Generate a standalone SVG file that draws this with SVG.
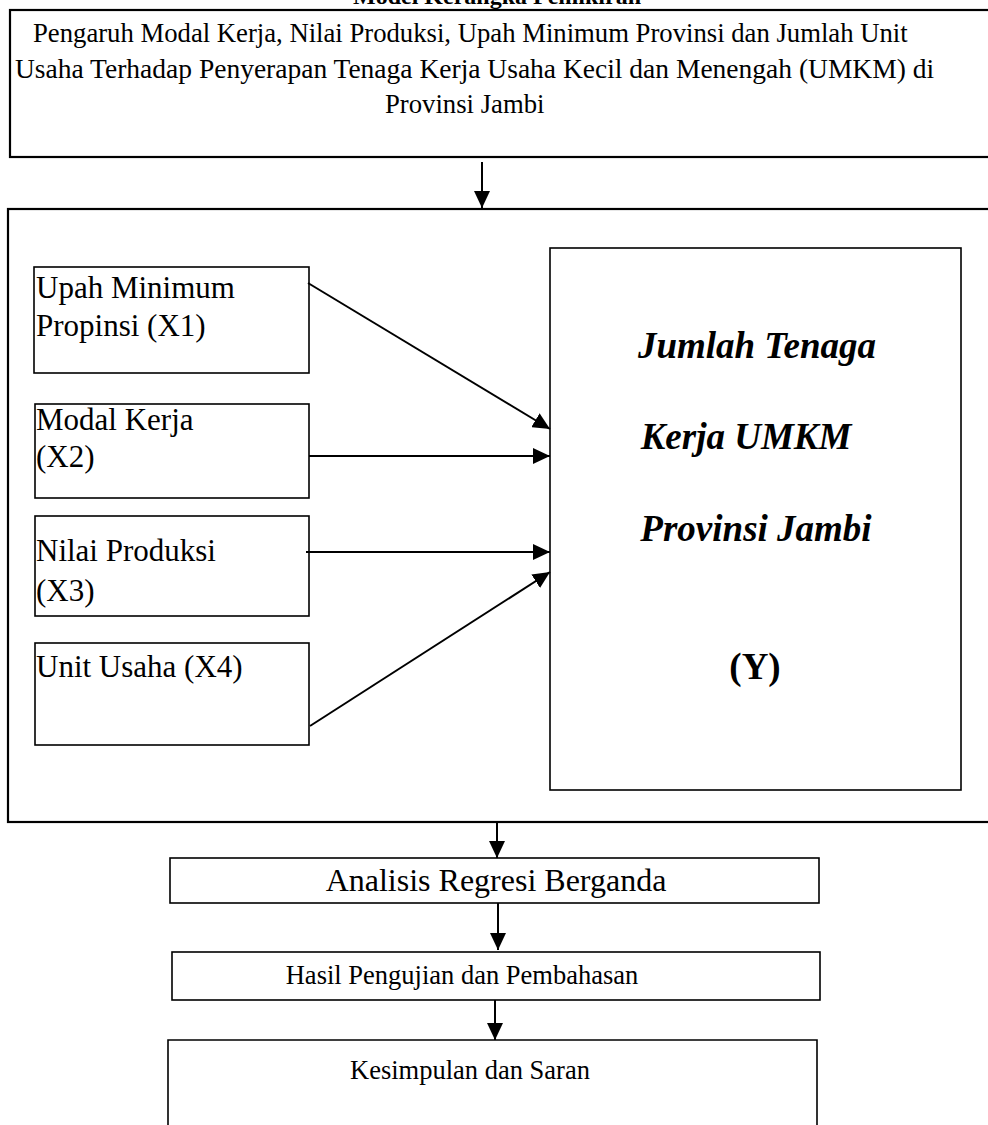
<svg xmlns="http://www.w3.org/2000/svg" width="988" height="1125" viewBox="0 0 988 1125">
<defs>
<style>
.box{fill:#fff;stroke:#000;stroke-width:1.6}
.big{fill:none;stroke:#000;stroke-width:2.2}
.t{font-family:"Liberation Serif","Times New Roman",serif;fill:#000}
.hd{font-size:26.7px}
.sm{font-size:31px}
.yb{font-size:37px;font-weight:bold}
.conn{stroke:#000;stroke-width:2;fill:none}
</style>
<marker id="ah" markerUnits="userSpaceOnUse" markerWidth="18" markerHeight="16" refX="17" refY="8" orient="auto">
<path d="M0,0 L17,8 L0,16 Z" fill="#000"/>
</marker>
</defs>
<rect width="988" height="1125" fill="#fff"/>

<text class="t" x="497" y="4" text-anchor="middle" font-size="24" font-weight="bold">Model Kerangka Pemikiran</text>

<g id="top">
<rect class="big" x="10" y="10" width="990" height="147"/>
<text class="t hd" x="33" y="42">Pengaruh Modal Kerja, Nilai Produksi, Upah Minimum Provinsi dan Jumlah Unit</text>
<text class="t" x="15" y="78" font-size="27.5">Usaha Terhadap Penyerapan Tenaga Kerja Usaha Kecil dan Menengah (UMKM) di</text>
<text class="t hd" x="385" y="113">Provinsi Jambi</text>
</g>

<g id="main">
<rect class="big" x="8" y="209" width="995" height="613"/>
</g>

<g id="x1">
<rect class="box" x="34" y="267" width="275" height="106"/>
<text class="t sm" x="36" y="298">Upah Minimum</text>
<text class="t sm" x="36" y="336">Propinsi (X1)</text>
</g>
<g id="x2">
<rect class="box" x="35" y="404" width="274" height="94"/>
<text class="t sm" x="36" y="430">Modal Kerja</text>
<text class="t sm" x="36" y="467">(X2)</text>
</g>
<g id="x3">
<rect class="box" x="35" y="516" width="274" height="100"/>
<text class="t sm" x="36" y="561">Nilai Produksi</text>
<text class="t sm" x="36" y="601">(X3)</text>
</g>
<g id="x4">
<rect class="box" x="35" y="643" width="274" height="102"/>
<text class="t sm" x="36" y="677">Unit Usaha (X4)</text>
</g>

<g id="y">
<rect class="box" x="550" y="248" width="411" height="542"/>
<text class="t yb" x="757" y="358" text-anchor="middle" font-style="italic">Jumlah Tenaga</text>
<text class="t yb" x="746" y="449" text-anchor="middle" font-style="italic">Kerja UMKM</text>
<text class="t yb" x="756" y="541" text-anchor="middle" font-style="italic" font-size="38">Provinsi Jambi</text>
<text class="t yb" x="755" y="679" text-anchor="middle">(Y)</text>
</g>

<g id="analisis">
<rect class="box" x="170" y="858" width="649" height="45"/>
<text class="t" x="496" y="891" text-anchor="middle" font-size="32">Analisis Regresi Berganda</text>
</g>
<g id="hasil">
<rect class="box" x="172" y="952" width="648" height="48"/>
<text class="t" x="462" y="984" text-anchor="middle" font-size="26.5">Hasil Pengujian dan Pembahasan</text>
</g>
<g id="kesimpulan">
<path class="box" d="M168,1130 L168,1040 L817,1040 L817,1130"/>
<text class="t" x="470" y="1079" text-anchor="middle" font-size="26.5">Kesimpulan dan Saran</text>
</g>

<g id="connectors">
<line class="conn" x1="482" y1="162" x2="482" y2="208" marker-end="url(#ah)"/>
<line class="conn" x1="308" y1="283" x2="550" y2="429" marker-end="url(#ah)"/>
<line class="conn" x1="309" y1="456" x2="550" y2="456" marker-end="url(#ah)"/>
<line class="conn" x1="306" y1="552" x2="550" y2="552" marker-end="url(#ah)"/>
<line class="conn" x1="310" y1="726" x2="550" y2="572" marker-end="url(#ah)"/>
<line class="conn" x1="497" y1="823" x2="497" y2="858" marker-end="url(#ah)"/>
<line class="conn" x1="498" y1="903" x2="498" y2="950" marker-end="url(#ah)"/>
<line class="conn" x1="495" y1="1000" x2="495" y2="1040" marker-end="url(#ah)"/>
</g>
</svg>
